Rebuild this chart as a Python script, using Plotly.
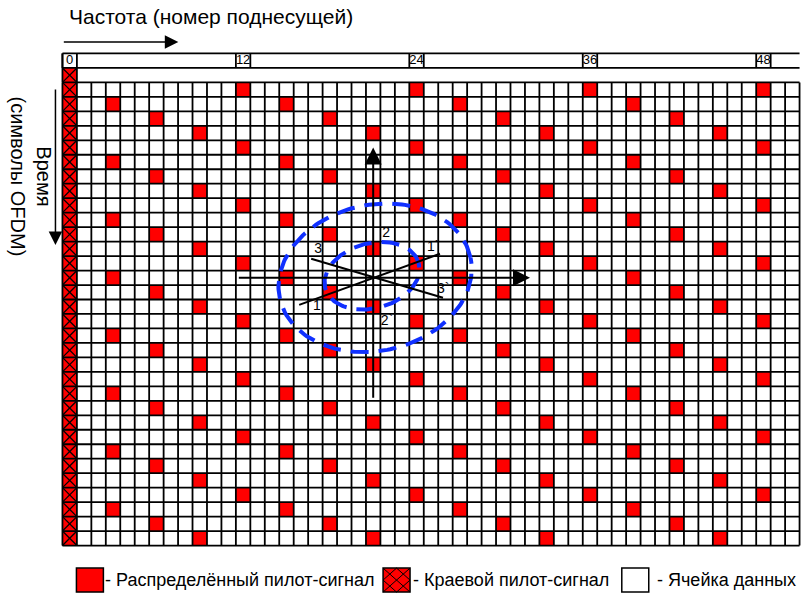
import math
import plotly.graph_objects as go

# ---------------- data ----------------
n_cols = 51                      # subcarriers 0..50
n_rows = 32                      # OFDM symbols 1..32 (row 0 only edge pilot)
header_ticks = [0, 12, 24, 36, 48]
# scattered pilot columns for the 4-symbol cycle (rows 1,2,3,4 then repeat)
pilot_cycle = [[12, 24, 36, 48], [3, 15, 27, 39], [6, 18, 30, 42], [9, 21, 33, 45]]
edge_col = 0
edge_rows = list(range(0, 33))

# overlay (data units: column, row)
v_arrow_x, v_arrow_tail, v_arrow_tip = 21.0, 22.4, 5.0
h_arrow_y, h_arrow_tail, h_arrow_tip = 14.0, 11.6, 31.85
line1_x, line1_y = [15.88, 25.62], [15.87, 12.34]
line3_x, line3_y = [16.71, 25.83], [12.69, 15.38]
pt_labels = ["3", "1", "2", "1`", "3`", "2`"]
pt_label_x = [17.2, 17.1, 21.9, 25.15, 25.85, 21.95]
pt_label_y = [12.05, 16.0, 10.95, 11.9, 14.8, 17.0]
ell_big = dict(cx=21.13, cy=14.0, a=6.75, b=5.05, ang=12)
ell_small = dict(cx=20.92, cy=13.86, a=3.35, b=2.25, ang=15)

title_top = "Частота (номер поднесущей)"
title_left = "Время<br>(символы OFDM)"
legend_labels = ["- Распределённый пилот-сигнал", "- Краевой пилот-сигнал", "- Ячейка данных"]

# ---------------- layout geometry ----------------
W, H = 802, 593
S = 14.47
xr = [-0.6, 50.6]
yr = [32.6, -1.6]
L = 62 - 0.1 * S
T = 53.5 - 0.1 * S
PW = (xr[1] - xr[0]) * S
PH = (yr[0] - yr[1]) * S
R = W - L - PW
B = H - T - PH


def pxx(p):
    return (p - L) / PW


def pxy(p):
    return (H - B - p) / PH


FONT = "Liberation Sans, Arial, sans-serif"

fig = go.Figure()

# pilot cells via heatmap
z = [[None] * n_cols for _ in range(n_rows + 1)]
for r in range(1, n_rows + 1):
    for c in pilot_cycle[(r - 1) % 4]:
        if c < n_cols:
            z[r][c] = 1
for r in edge_rows:
    z[r][edge_col] = 1
fig.add_trace(go.Heatmap(z=z, x=list(range(n_cols)), y=list(range(n_rows + 1)),
                         colorscale=[[0, "#ff0000"], [1, "#ff0000"]], showscale=False,
                         hoverinfo="skip", zmin=0, zmax=1))

# grid lines
gx, gy = [], []
for k in range(n_cols + 1):
    gx += [k - 0.5, k - 0.5, None]
    gy += [0.5, n_rows + 0.5, None]
for r in range(0, n_rows + 1):
    gx += [-0.5, n_cols - 0.5, None]
    gy += [r + 0.5, r + 0.5, None]
for yy in (-1.5, -0.5):
    gx += [-0.5, n_cols - 0.5, None]
    gy += [yy, yy, None]
gx += [-0.5, -0.5, None, 0.5, 0.5, None]
gy += [-1.5, 0.5, None, -0.5, 0.5, None]
for c in header_ticks:
    gx += [c - 0.5, c - 0.5, None, c + 0.5, c + 0.5, None]
    gy += [-1.5, -0.5, None, -1.5, -0.5, None]
fig.add_trace(go.Scatter(x=gx, y=gy, mode="lines", line=dict(color="black", width=1.8),
                         hoverinfo="skip", showlegend=False))

# hatch for edge pilots
hx, hy = [], []
for r in edge_rows:
    hx += [edge_col - 0.5, edge_col + 0.5, None, edge_col - 0.5, edge_col + 0.5, None]
    hy += [r - 0.5, r + 0.5, None, r + 0.5, r - 0.5, None]
fig.add_trace(go.Scatter(x=hx, y=hy, mode="lines", line=dict(color="black", width=1.3),
                         hoverinfo="skip", showlegend=False))


def ellipse(e, n=200):
    xs, ys = [], []
    a = math.radians(e["ang"])
    for i in range(n + 1):
        t = 2 * math.pi * i / n
        dx = e["a"] * math.cos(t)
        dy = e["b"] * math.sin(t)
        xs.append(e["cx"] + dx * math.cos(a) - dy * math.sin(a))
        ys.append(e["cy"] - (dx * math.sin(a) + dy * math.cos(a)))
    return xs, ys


for e in (ell_big, ell_small):
    ex, ey = ellipse(e)
    fig.add_trace(go.Scatter(x=ex, y=ey, mode="lines",
                             line=dict(color="#1030ff", width=4, dash="18px,10px"),
                             hoverinfo="skip", showlegend=False))

for lx, ly in ((line1_x, line1_y), (line3_x, line3_y)):
    fig.add_trace(go.Scatter(x=lx, y=ly, mode="lines", line=dict(color="black", width=2),
                             hoverinfo="skip", showlegend=False))

fig.add_trace(go.Scatter(x=pt_label_x, y=pt_label_y, mode="text", text=pt_labels,
                         textfont=dict(family=FONT, size=14, color="black"),
                         hoverinfo="skip", showlegend=False))

# header labels as text trace (drawn above grid)
fig.add_trace(go.Scatter(x=header_ticks, y=[-1.0] * len(header_ticks), mode="text",
                         text=[str(c) for c in header_ticks],
                         textfont=dict(family=FONT, size=13, color="black"),
                         hoverinfo="skip", showlegend=False))

ann = []
# arrows in grid
ann.append(dict(x=v_arrow_x, y=v_arrow_tip, ax=v_arrow_x, ay=v_arrow_tail, xref="x", yref="y",
                axref="x", ayref="y", showarrow=True, arrowhead=2, arrowsize=1.7,
                arrowwidth=2, arrowcolor="black", text=""))
ann.append(dict(x=h_arrow_tip, y=h_arrow_y, ax=h_arrow_tail, ay=h_arrow_y, xref="x", yref="y",
                axref="x", ayref="y", showarrow=True, arrowhead=2, arrowsize=1.7,
                arrowwidth=2, arrowcolor="black", text=""))
# outer arrows
ann.append(dict(x=pxx(178), y=pxy(42), xref="paper", yref="paper", ax=-116, ay=0,
                showarrow=True, arrowhead=2, arrowsize=1.8, arrowwidth=1.5, arrowcolor="black", text=""))
ann.append(dict(x=pxx(55), y=pxy(245), xref="paper", yref="paper", ax=0, ay=-157,
                showarrow=True, arrowhead=2, arrowsize=1.8, arrowwidth=1.5, arrowcolor="black", text=""))
ann.append(dict(x=pxx(67), y=pxy(17), xref="paper", yref="paper", text=title_top, showarrow=False,
                xanchor="left", yanchor="middle", font=dict(family=FONT, size=21, color="black")))
ann.append(dict(x=pxx(31), y=pxy(177), xref="paper", yref="paper", text=title_left, showarrow=False,
                textangle=90, xanchor="center", yanchor="middle",
                font=dict(family=FONT, size=20, color="black")))
# legend texts
leg_x = [103, 411, 655]
for lab, x0 in zip(legend_labels, leg_x):
    ann.append(dict(x=pxx(x0), y=pxy(580), xref="paper", yref="paper", text=lab, showarrow=False,
                    xanchor="left", yanchor="middle", font=dict(family=FONT, size=18, color="black")))

shapes = []
sq = [(76, 103), (383, 410), (622, 649)]
fills = ["#ff0000", "#ff0000", "white"]
for (x0, x1), f in zip(sq, fills):
    shapes.append(dict(type="rect", xref="paper", yref="paper", x0=pxx(x0), x1=pxx(x1),
                       y0=pxy(592), y1=pxy(568), fillcolor=f, line=dict(color="black", width=1.5)))
# hatch on legend square
hx0, hx1 = sq[1]
ym0, ym1 = 568, 592
xm, ymid = (hx0 + hx1) / 2, (ym0 + ym1) / 2
for (a, b, c, d) in [(hx0, ym0, hx1, ym1), (hx0, ym1, hx1, ym0),
                     (xm, ym0, hx0, ymid), (xm, ym0, hx1, ymid),
                     (hx0, ymid, xm, ym1), (hx1, ymid, xm, ym1)]:
    shapes.append(dict(type="line", xref="paper", yref="paper", x0=pxx(a), y0=pxy(b),
                       x1=pxx(c), y1=pxy(d), line=dict(color="black", width=1)))

fig.update_layout(
    width=W, height=H,
    margin=dict(l=L, r=R, t=T, b=B, pad=0),
    paper_bgcolor="white", plot_bgcolor="white",
    xaxis=dict(range=xr, visible=False, fixedrange=True),
    yaxis=dict(range=yr, visible=False, fixedrange=True),
    annotations=ann, shapes=shapes, showlegend=False,
)
fig.write_html("out.html", config={"displayModeBar": False},
               post_script="document.body.style.margin='0';document.body.style.overflow='hidden';")
